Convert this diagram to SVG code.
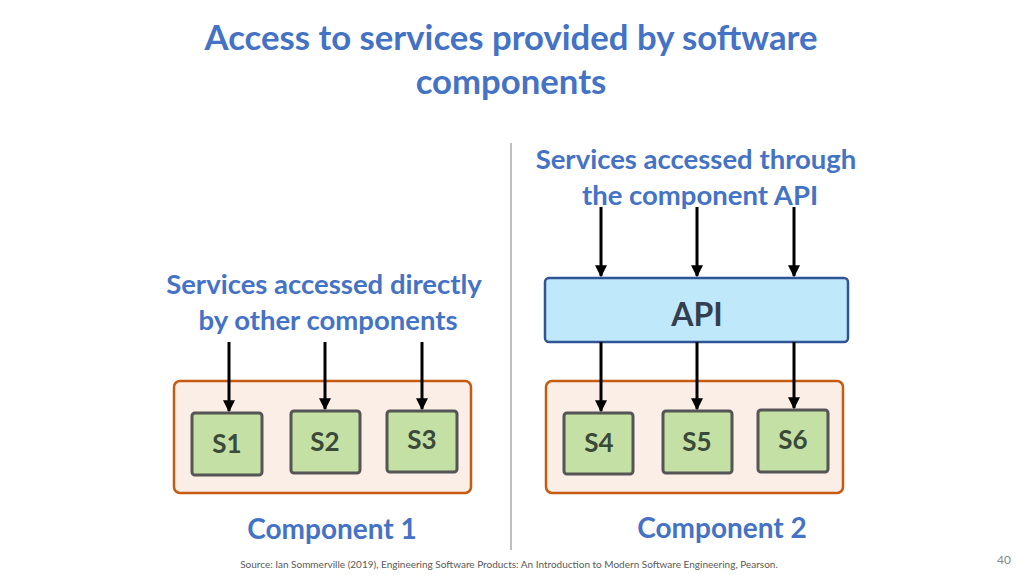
<svg xmlns="http://www.w3.org/2000/svg" width="1024" height="575" viewBox="0 0 1024 575">
<style>
.t{font-family:"Lato","Liberation Sans",sans-serif;font-weight:bold;fill:#4472c4;text-anchor:middle}
.comp{fill:#fbeee6;stroke:#c55a11;stroke-width:2.5}
.s{fill:#c5e0a4;stroke:#555;stroke-width:3}
.sl{font-family:"Lato","Liberation Sans",sans-serif;font-weight:bold;font-size:26px;fill:#3a4a3a;text-anchor:middle}
.c{stroke:#000;stroke-width:3;fill:none;marker-end:url(#a)}
</style>
<defs><marker id="a" viewBox="0 0 10 10" refX="9" refY="5" markerWidth="4" markerHeight="4" orient="auto"><path d="M0,0L10,5L0,10z" fill="#000"/></marker></defs>
<rect width="1024" height="575" fill="#fff"/>
<text class="t" x="511" y="50" font-size="34.7">Access to services provided by software</text>
<text class="t" x="511" y="94" font-size="34.7">components</text>
<line x1="511" y1="143" x2="511" y2="550" stroke="#aaa" stroke-width="1.5"/>
<text class="t" x="324" y="294" font-size="27.5">Services accessed directly</text>
<text class="t" x="328" y="330" font-size="27.5">by other components</text>
<text class="t" x="696" y="169" font-size="27.5">Services accessed through</text>
<text class="t" x="700" y="205" font-size="27.5">the component API</text>
<g id="component1"><rect class="comp" x="174" y="381" width="297" height="112" rx="6"/></g>
<g id="component2"><rect class="comp" x="546" y="381" width="297" height="112" rx="6"/></g>
<g id="api"><rect x="545" y="278" width="303" height="64" rx="4" fill="#bfe9fb" stroke="#2f5597" stroke-width="2.5"/><text x="697" y="326" font-family="Lato,'Liberation Sans',sans-serif" font-weight="bold" font-size="32" fill="#333f50" text-anchor="middle">API</text></g>
<g id="s1"><rect class="s" x="192" y="413" width="70" height="62" rx="3"/><text class="sl" x="227" y="453">S1</text></g>
<g id="s2"><rect class="s" x="291" y="411" width="69" height="62" rx="3"/><text class="sl" x="325" y="451">S2</text></g>
<g id="s3"><rect class="s" x="387" y="411" width="70" height="61" rx="3"/><text class="sl" x="422" y="449">S3</text></g>
<g id="s4"><rect class="s" x="564" y="413" width="69" height="61" rx="3"/><text class="sl" x="599" y="452">S4</text></g>
<g id="s5"><rect class="s" x="663" y="411" width="69" height="62" rx="3"/><text class="sl" x="697" y="451">S5</text></g>
<g id="s6"><rect class="s" x="758" y="410" width="70" height="62" rx="3"/><text class="sl" x="793" y="449">S6</text></g>
<g id="connectors">
<line class="c" x1="229" y1="342" x2="229" y2="411"/>
<line class="c" x1="325" y1="342" x2="325" y2="409"/>
<line class="c" x1="422" y1="342" x2="422" y2="409"/>
<line class="c" x1="601" y1="207" x2="601" y2="276"/>
<line class="c" x1="697" y1="207" x2="697" y2="276"/>
<line class="c" x1="794" y1="207" x2="794" y2="276"/>
<line class="c" x1="601" y1="342" x2="601" y2="411"/>
<line class="c" x1="697" y1="342" x2="697" y2="409"/>
<line class="c" x1="794" y1="342" x2="794" y2="408"/>
</g>
<text class="t" x="332" y="539" font-size="28">Component 1</text>
<text class="t" x="722" y="538" font-size="28">Component 2</text>
<text x="509" y="568" font-family="Lato,'Liberation Sans',sans-serif" font-size="10" fill="#595959" text-anchor="middle">Source: Ian Sommerville (2019), Engineering Software Products:  An Introduction to Modern Software Engineering, Pearson.</text>
<text x="1004" y="564" font-family="Lato,'Liberation Sans',sans-serif" font-size="12" fill="#888" text-anchor="middle">40</text>
</svg>
